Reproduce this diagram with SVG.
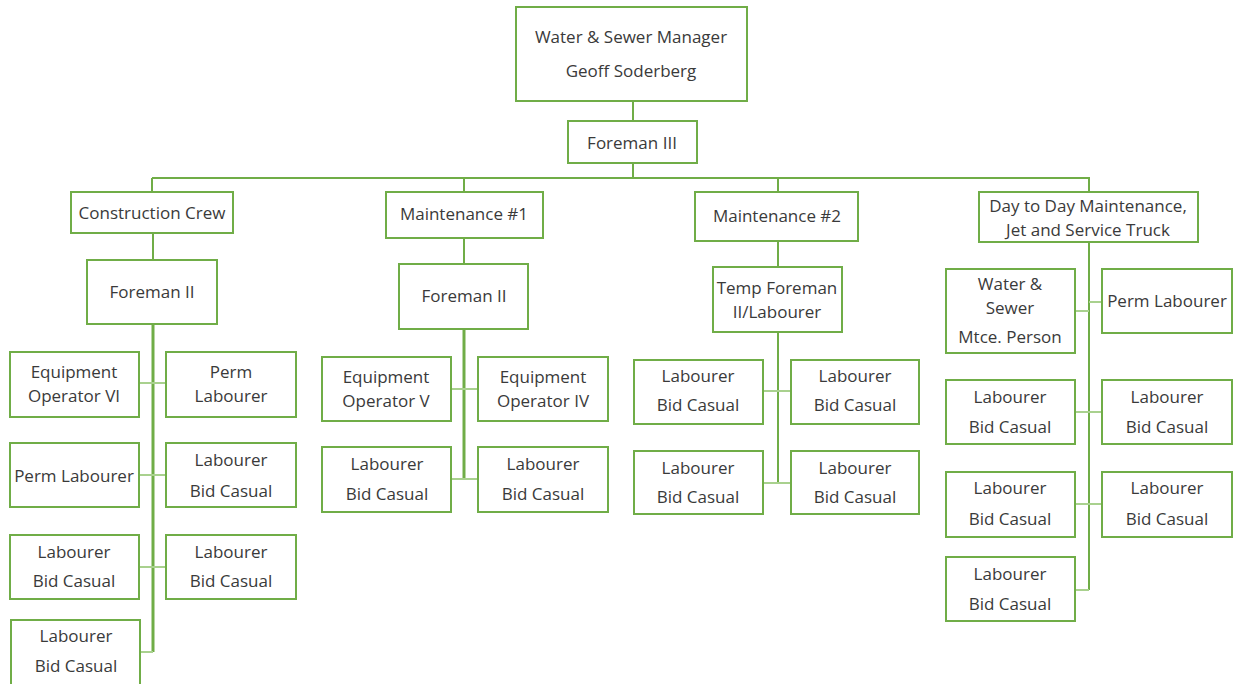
<svg xmlns="http://www.w3.org/2000/svg" width="1236" height="684" viewBox="0 0 1236 684">
  <style>
    .box { fill: #ffffff; stroke: #70ad47; stroke-width: 2; }
    .lbl { font-family: "Open Sans", "Liberation Sans", Arial, sans-serif; font-size: 17px; fill: #3a3a3a; text-anchor: middle; dominant-baseline: central; }
    .wire { fill: none; stroke: #70ad47; stroke-width: 2; }
    .trunk { fill: none; stroke: #70ad47; stroke-width: 3; }
    .stub { fill: none; stroke: #a9d18e; stroke-width: 2; }
  </style>
  <rect width="1236" height="684" fill="#ffffff"/>

  <!-- reporting lines -->
  <g id="connectors">
    <path class="wire" d="M633 101 V121 M633 163 V178 M152 178 H1090 M152 178 V192 M464 178 V192 M778 178 V192 M1089 178 V192"/>
    <path class="wire" d="M153 233 V260 M464 238 V264 M778 241 V267"/>
    <!-- construction crew -->
    <path class="trunk" d="M153 324 V652"/>
    <path class="stub" d="M139 383 H166 M139 475 H166 M139 567 H166 M140 652 H153"/>
    <!-- maintenance #1 -->
    <path class="trunk" d="M464 329 V479"/>
    <path class="stub" d="M451 389 H478 M451 479 H478"/>
    <!-- maintenance #2 -->
    <path class="wire" d="M778 332 V483"/>
    <path class="stub" d="M763 391 H791 M763 483 H791"/>
    <!-- day to day -->
    <path class="wire" d="M1089 242 V590"/>
    <path class="stub" d="M1075 311 H1089 M1089 302 H1102 M1075 412 H1102 M1075 504 H1102 M1075 590 H1089"/>
  </g>

  <g id="manager">
    <rect class="box" x="516" y="7" width="231" height="94"/>
    <text class="lbl" x="631" y="36">Water &amp; Sewer Manager</text>
    <text class="lbl" x="631" y="70">Geoff Soderberg</text>
  </g>
  <g id="foreman3">
    <rect class="box" x="568" y="121" width="129" height="42"/>
    <text class="lbl" x="632" y="142">Foreman  III</text>
  </g>

  <!-- construction crew branch -->
  <g id="construction-crew">
    <rect class="box" x="71" y="192" width="162" height="41"/>
    <text class="lbl" x="152" y="212">Construction  Crew</text>
  </g>
  <g id="cc-foreman">
    <rect class="box" x="87" y="260" width="130" height="64"/>
    <text class="lbl" x="152" y="291">Foreman II</text>
  </g>
  <g id="cc-eq-op-6">
    <rect class="box" x="10" y="352" width="129" height="65"/>
    <text class="lbl" x="74" y="371">Equipment</text>
    <text class="lbl" x="74" y="395">Operator VI</text>
  </g>
  <g id="cc-perm-1">
    <rect class="box" x="166" y="352" width="130" height="65"/>
    <text class="lbl" x="231" y="371">Perm</text>
    <text class="lbl" x="231" y="395">Labourer</text>
  </g>
  <g id="cc-perm-2">
    <rect class="box" x="10" y="443" width="129" height="64"/>
    <text class="lbl" x="74" y="475">Perm Labourer</text>
  </g>
  <g id="cc-lab-1">
    <rect class="box" x="166" y="443" width="130" height="64"/>
    <text class="lbl" x="231" y="459">Labourer</text>
    <text class="lbl" x="231" y="490">Bid Casual</text>
  </g>
  <g id="cc-lab-2">
    <rect class="box" x="10" y="535" width="129" height="64"/>
    <text class="lbl" x="74" y="551">Labourer</text>
    <text class="lbl" x="74" y="580">Bid Casual</text>
  </g>
  <g id="cc-lab-3">
    <rect class="box" x="166" y="535" width="130" height="64"/>
    <text class="lbl" x="231" y="551">Labourer</text>
    <text class="lbl" x="231" y="580">Bid Casual</text>
  </g>
  <g id="cc-lab-4">
    <rect class="box" x="11" y="620" width="129" height="66"/>
    <text class="lbl" x="76" y="635">Labourer</text>
    <text class="lbl" x="76" y="665">Bid Casual</text>
  </g>

  <!-- maintenance #1 branch -->
  <g id="maint-1">
    <rect class="box" x="386" y="192" width="157" height="46"/>
    <text class="lbl" x="464" y="213">Maintenance #1</text>
  </g>
  <g id="m1-foreman">
    <rect class="box" x="399" y="264" width="129" height="65"/>
    <text class="lbl" x="464" y="295">Foreman II</text>
  </g>
  <g id="m1-eq-op-5">
    <rect class="box" x="322" y="357" width="129" height="64"/>
    <text class="lbl" x="386" y="376">Equipment</text>
    <text class="lbl" x="386" y="400">Operator V</text>
  </g>
  <g id="m1-eq-op-4">
    <rect class="box" x="478" y="357" width="130" height="64"/>
    <text class="lbl" x="543" y="376">Equipment</text>
    <text class="lbl" x="543" y="400">Operator IV</text>
  </g>
  <g id="m1-lab-1">
    <rect class="box" x="322" y="447" width="129" height="65"/>
    <text class="lbl" x="387" y="463">Labourer</text>
    <text class="lbl" x="387" y="493">Bid Casual</text>
  </g>
  <g id="m1-lab-2">
    <rect class="box" x="478" y="447" width="130" height="65"/>
    <text class="lbl" x="543" y="463">Labourer</text>
    <text class="lbl" x="543" y="493">Bid Casual</text>
  </g>

  <!-- maintenance #2 branch -->
  <g id="maint-2">
    <rect class="box" x="695" y="192" width="163" height="49"/>
    <text class="lbl" x="777" y="215">Maintenance #2</text>
  </g>
  <g id="m2-temp-foreman">
    <rect class="box" x="713" y="267" width="129" height="65"/>
    <text class="lbl" x="777" y="287">Temp Foreman</text>
    <text class="lbl" x="777" y="311">II/Labourer</text>
  </g>
  <g id="m2-lab-1">
    <rect class="box" x="634" y="360" width="129" height="64"/>
    <text class="lbl" x="698" y="375">Labourer</text>
    <text class="lbl" x="698" y="404">Bid Casual</text>
  </g>
  <g id="m2-lab-2">
    <rect class="box" x="791" y="360" width="128" height="64"/>
    <text class="lbl" x="855" y="375">Labourer</text>
    <text class="lbl" x="855" y="404">Bid Casual</text>
  </g>
  <g id="m2-lab-3">
    <rect class="box" x="634" y="451" width="129" height="63"/>
    <text class="lbl" x="698" y="467">Labourer</text>
    <text class="lbl" x="698" y="496">Bid Casual</text>
  </g>
  <g id="m2-lab-4">
    <rect class="box" x="791" y="451" width="128" height="63"/>
    <text class="lbl" x="855" y="467">Labourer</text>
    <text class="lbl" x="855" y="496">Bid Casual</text>
  </g>

  <!-- day to day branch -->
  <g id="day-to-day">
    <rect class="box" x="979" y="192" width="219" height="50"/>
    <text class="lbl" x="1088" y="205">Day to Day Maintenance,</text>
    <text class="lbl" x="1088" y="229">Jet and Service Truck</text>
  </g>
  <g id="dd-mtce-person">
    <rect class="box" x="946" y="269" width="129" height="84"/>
    <text class="lbl" x="1010" y="283">Water &amp;</text>
    <text class="lbl" x="1010" y="307">Sewer</text>
    <text class="lbl" x="1010" y="336">Mtce. Person</text>
  </g>
  <g id="dd-perm">
    <rect class="box" x="1102" y="269" width="130" height="64"/>
    <text class="lbl" x="1167" y="300">Perm Labourer</text>
  </g>
  <g id="dd-lab-1">
    <rect class="box" x="946" y="380" width="129" height="64"/>
    <text class="lbl" x="1010" y="396">Labourer</text>
    <text class="lbl" x="1010" y="426">Bid Casual</text>
  </g>
  <g id="dd-lab-2">
    <rect class="box" x="1102" y="380" width="130" height="64"/>
    <text class="lbl" x="1167" y="396">Labourer</text>
    <text class="lbl" x="1167" y="426">Bid Casual</text>
  </g>
  <g id="dd-lab-3">
    <rect class="box" x="946" y="472" width="129" height="65"/>
    <text class="lbl" x="1010" y="487">Labourer</text>
    <text class="lbl" x="1010" y="518">Bid Casual</text>
  </g>
  <g id="dd-lab-4">
    <rect class="box" x="1102" y="472" width="130" height="65"/>
    <text class="lbl" x="1167" y="487">Labourer</text>
    <text class="lbl" x="1167" y="518">Bid Casual</text>
  </g>
  <g id="dd-lab-5">
    <rect class="box" x="946" y="557" width="129" height="64"/>
    <text class="lbl" x="1010" y="573">Labourer</text>
    <text class="lbl" x="1010" y="603">Bid Casual</text>
  </g>
</svg>
